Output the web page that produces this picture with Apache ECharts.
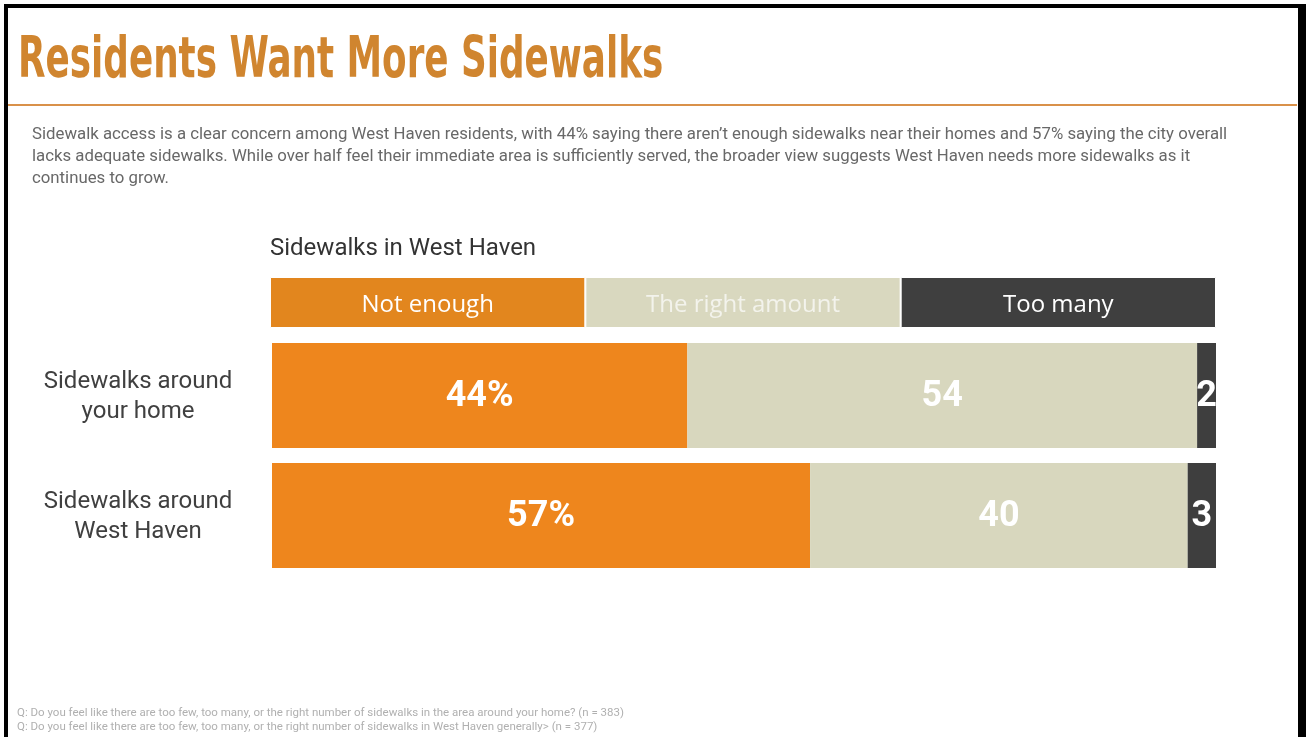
<!DOCTYPE html>
<html>
<head>
<meta charset="utf-8">
<script src="https://cdn.jsdelivr.net/npm/echarts@6/dist/echarts.min.js"></script>
<style>
html,body{margin:0;padding:0;background:#fff;}
#chart{position:absolute;left:0;top:0;width:1306px;height:737px;}
#frame{position:absolute;left:4px;top:4px;width:1290px;height:729px;border-left:4px solid #000;border-top:4px solid #000;border-right:8px solid #000;border-bottom:2px solid #222;pointer-events:none;}
</style>
</head>
<body>
<div id="chart"></div>
<div id="frame"></div>
<script>
const titleText = 'Residents Want More Sidewalks';
const bodyLines = [
  'Sidewalk access is a clear concern among West Haven residents, with 44% saying there aren\u2019t enough sidewalks near their homes and 57% saying the city overall',
  'lacks adequate sidewalks. While over half feel their immediate area is sufficiently served, the broader view suggests West Haven needs more sidewalks as it',
  'continues to grow.'
];
const chartHeading = 'Sidewalks in West Haven';
const footnotes = [
  'Q: Do you feel like there are too few, too many, or the right number of sidewalks in the area around your home? (n = 383)',
  'Q: Do you feel like there are too few, too many, or the right number of sidewalks in West Haven generally> (n = 377)'
];
const categories = ['Sidewalks around\nyour home', 'Sidewalks around\nWest Haven'];
const seriesNames = ['Not enough', 'The right amount', 'Too many'];
const notEnough = [44, 57];
const rightAmount = [54, 40];
const tooMany = [2, 3];
const legendValues = [1, 1, 1];

const FONT = 'Roboto, "Liberation Sans", sans-serif';
const WIDE = '"Open Sans", Roboto, sans-serif';
const NARROW = '"Liberation Sans Narrow", "DejaVu Sans Condensed", sans-serif';

const chart = echarts.init(document.getElementById('chart'), null, {renderer: 'canvas'});

const barColors = ['#EE861D', '#D8D7BE', '#3E3E3E'];
const legendColors = ['#E2861E', '#D9D8BF', '#3F3F3F'];
const legendTextColors = ['#FFFFFF', '#F3F3EC', '#FFFFFF'];
const dataSets = [notEnough, rightAmount, tooMany];

const mainSeries = seriesNames.map((name, i) => ({
  name: name,
  type: 'bar',
  stack: 'main',
  xAxisIndex: 0,
  yAxisIndex: 0,
  barWidth: 105,
  data: dataSets[i],
  itemStyle: {color: barColors[i]},
  label: {
    show: true,
    position: 'inside',
    color: '#fff',
    fontFamily: FONT,
    fontWeight: 'bold',
    fontSize: 36,
    offset: [0, 1],
    formatter: i === 0 ? '{c}%' : '{c}'
  }
}));

const legendSeries = seriesNames.map((name, i) => ({
  name: name + ' ',
  type: 'bar',
  stack: 'legend',
  xAxisIndex: 1,
  yAxisIndex: 1,
  barWidth: '100%',
  data: [legendValues[i]],
  itemStyle: {color: legendColors[i], borderColor: '#fff', borderWidth: 1},
  label: {
    show: true,
    position: 'inside',
    formatter: name,
    color: legendTextColors[i],
    fontFamily: WIDE,
    fontSize: 24,
    offset: [0, 3]
  },
  silent: true
}));

chart.setOption({
  animation: false,
  backgroundColor: '#fff',
  grid: [
    {left: 272, right: 90, top: 335.5, bottom: 161.5},
    {left: 270, right: 90, top: 277, height: 51}
  ],
  xAxis: [
    {type: 'value', gridIndex: 0, min: 0, max: 100, show: false},
    {type: 'value', gridIndex: 1, min: 0, max: 3, show: false}
  ],
  yAxis: [
    {
      type: 'category', gridIndex: 0, data: categories, inverse: true,
      axisLine: {show: false}, axisTick: {show: false}, splitLine: {show: false},
      axisLabel: {
        margin: 134, align: 'center', color: '#404040',
        fontFamily: FONT, fontSize: 24,
        formatter: function (v) {
          const parts = v.split('\n');
          return parts.map((s, k) => (k === 0 ? '{a|' : '{b|') + s + '}').join('\n');
        },
        rich: {
          a: {fontFamily: FONT, fontSize: 24, lineHeight: 32, color: '#404040', padding: [4, 0, 0, 0]},
          b: {fontFamily: FONT, fontSize: 24, lineHeight: 32, color: '#404040'}
        }
      }
    },
    {
      type: 'category', gridIndex: 1, data: [''],
      axisLine: {show: false}, axisTick: {show: false}, axisLabel: {show: false}
    }
  ],
  series: mainSeries.concat(legendSeries),
  graphic: [
    {
      type: 'text', left: 18, top: 34, scaleX: 0.697,
      style: {text: titleText, fill: '#D0852F', font: 'bold 57px ' + NARROW}
    },
    {
      type: 'line', shape: {x1: 8, y1: 105, x2: 1297, y2: 105},
      style: {stroke: '#D9914A', lineWidth: 2}
    },
    {
      type: 'text', left: 32, top: 124,
      style: {text: bodyLines.join('\n'), fill: '#686868', font: '16.8px ' + FONT, lineHeight: 22}
    },
    {
      type: 'text', left: 270, top: 237,
      style: {text: chartHeading, fill: '#333', font: '24px ' + FONT}
    },
    {
      type: 'text', left: 17, top: 706,
      style: {text: footnotes.join('\n'), fill: '#B0B0B0', font: '11.5px ' + FONT, lineHeight: 14}
    }
  ]
});
</script>
</body>
</html>
